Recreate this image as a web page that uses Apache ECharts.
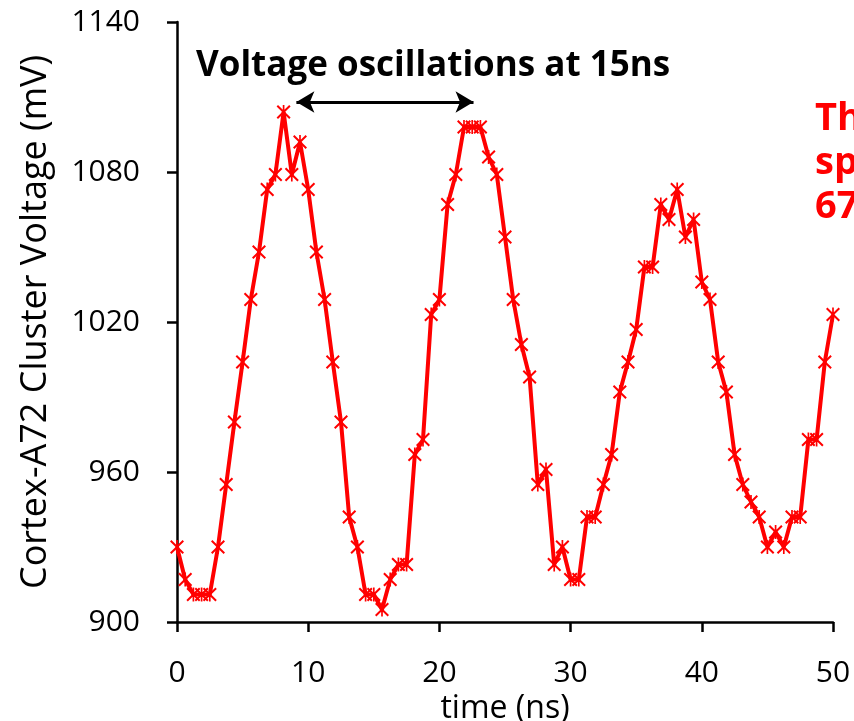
<!DOCTYPE html>
<html>
<head>
<meta charset="utf-8">
<script src="https://cdn.jsdelivr.net/npm/echarts@6/dist/echarts.min.js"></script>
<style>
  html, body { margin: 0; padding: 0; background: #fff; }
  #chart { width: 854px; height: 721px; }
</style>
</head>
<body>
<div id="chart"></div>
<script>
// sampled every 0.625 ns (1.6 GS/s), 0 .. 50 ns
const sampleStep = 0.625
const voltage = [
  930, 917, 911, 911, 911, 930, 955, 980, 1004, 1029,
  1048, 1073, 1079, 1104, 1079, 1092, 1073, 1048, 1029, 1004,
  980, 942, 930, 911, 911, 905, 917, 923, 923, 967,
  973, 1023, 1029, 1067, 1079, 1098, 1098, 1098, 1086, 1079,
  1054, 1029, 1011, 998, 955, 961, 923, 930, 917, 917,
  942, 942, 955, 967, 992, 1004, 1017, 1042, 1042, 1067,
  1061, 1073, 1054, 1061, 1036, 1029, 1004, 992, 967, 955,
  948, 942, 930, 936, 930, 942, 942, 973, 973, 1004,
  1023
]
const xTicks = [0, 50, 10]      // min, max, interval
const yTicks = [900, 1140, 60]
// double arrow marking the 15 ns period (ns, mV)
const arrowSpan = [[9.1, 1108], [22.6, 1108]]

const seriesData = voltage.map((v, i) => [i * sampleStep, v])

const font = '"Open Sans", "Liberation Sans", sans-serif'
const starMarker = 'path://M0,1L1,0L5,4L9,0L10,1L6,5L10,9L9,10L5,6L1,10L0,9L4,5Z M4.4,0L5.6,0L5.6,10L4.4,10Z'

let myChart = echarts.init(document.getElementById('chart'))
let option = {
  animation: false,
  grid: {
    left: 177,
    right: 21,
    top: 22,
    bottom: 99,
    outerBoundsMode: 'none'
  },
  xAxis: {
    type: 'value',
    min: xTicks[0],
    max: xTicks[1],
    interval: xTicks[2],
    name: 'time (ns)',
    nameLocation: 'middle',
    nameGap: 66,
    nameTextStyle: { color: '#000', fontSize: 32, fontFamily: font },
    axisLine: { show: true, lineStyle: { color: '#000', width: 2.5 } },
    axisTick: { show: true, length: 10, lineStyle: { color: '#000', width: 2.5 } },
    axisLabel: { color: '#000', fontSize: 30, fontFamily: font, margin: 36 },
    splitLine: { show: false }
  },
  yAxis: {
    type: 'value',
    min: yTicks[0],
    max: yTicks[1],
    interval: yTicks[2],
    name: 'Cortex-A72 Cluster Voltage (mV)',
    nameLocation: 'middle',
    nameGap: 123,
    nameTextStyle: { color: '#000', fontSize: 36, fontFamily: font },
    axisLine: { show: true, lineStyle: { color: '#000', width: 2.5 } },
    axisTick: { show: true, length: 10, lineStyle: { color: '#000', width: 2.5 } },
    axisLabel: {
      color: '#000', fontSize: 30, fontFamily: font, margin: 37,
      formatter: v => String(v)
    },
    splitLine: { show: false }
  },
  series: [
    {
      type: 'line',
      data: seriesData,
      symbol: starMarker,
      symbolSize: 14,
      showAllSymbol: true,
      lineStyle: { color: '#ff0000', width: 4 },
      itemStyle: { color: '#ff0000' },
      z: 5,
      markLine: {
        silent: true,
        symbol: ['arrow', 'arrow'],
        symbolSize: [16, 18],
        label: { show: false },
        lineStyle: { color: '#000', width: 3, type: 'solid' },
        data: [[{ coord: arrowSpan[0] }, { coord: arrowSpan[1] }]]
      }
    }
  ],
  graphic: [
    {
      type: 'text',
      left: 196,
      top: 49,
      style: {
        text: 'Voltage oscillations at 15ns',
        fill: '#000',
        font: 'bold 35px ' + font
      }
    },
    {
      type: 'text',
      left: 815,
      top: 97,
      style: {
        text: 'Th\nsp\n67',
        fill: '#ff0000',
        font: 'bold 38px ' + font,
        lineHeight: 44
      }
    }
  ]
}
myChart.setOption(option)
window.addEventListener('resize', () => { myChart.resize() })
</script>
</body>
</html>
